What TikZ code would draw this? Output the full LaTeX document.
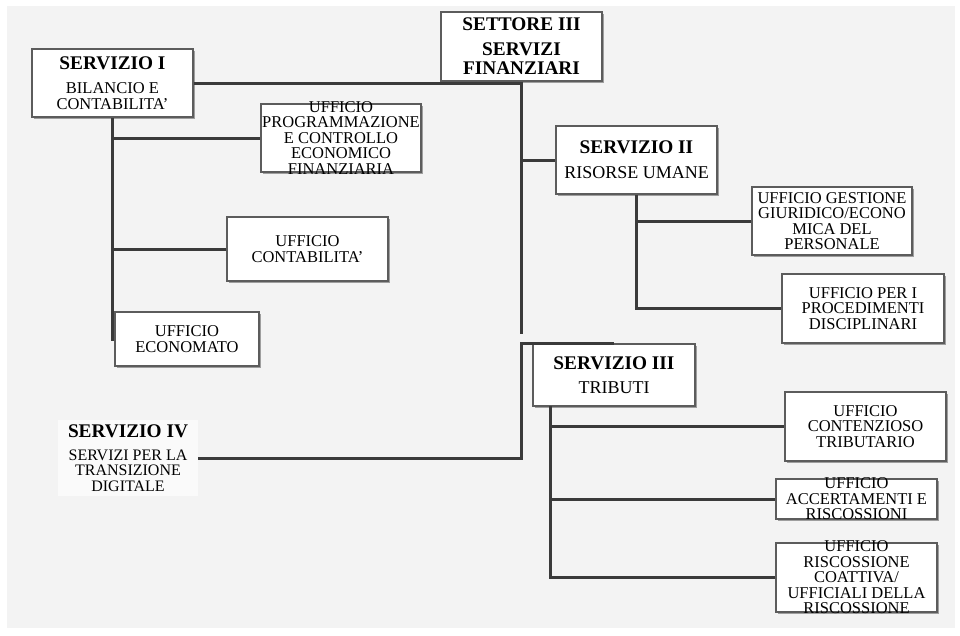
\documentclass[tikz,border=0pt]{standalone}
\usepackage{fontspec}
\setmainfont{Liberation Serif}
\usetikzlibrary{shadows}
\definecolor{pagebg}{HTML}{F3F3F3}
\definecolor{linkc}{HTML}{3A3A3A}
\definecolor{edgec}{HTML}{5C5C5C}
\newcommand\hdtxt[1]{{\fontsize{19.3}{19}\selectfont\bfseries #1}}
\tikzset{
  orgbox/.style={draw=edgec, line width=1.3pt, fill=white, inner sep=0pt,
    drop shadow={shadow xshift=1.5pt, shadow yshift=-2pt, fill=black, opacity=0.35}},
  boxtext/.style={align=center, inner sep=0pt, font=\fontsize{16.5}{15.5}\selectfont},
  link/.style={draw=linkc, line width=3pt}
}
\begin{document}
\begin{tikzpicture}[x=1pt, y=-1pt]
  \useasboundingbox (0,0) rectangle (960,635);
  \fill[white] (0,0) rectangle (960,635);
  \fill[pagebg] (7,6) rectangle (955,628);

  % sector head
  \node[orgbox, minimum width=161pt, minimum height=69pt] (set) at (521.5,46.5) {};
  \node[boxtext, font=\fontsize{19.3}{19}\selectfont\bfseries] (setT) at (set.center)
    {SETTORE III\\[6pt]SERVIZI\\FINANZIARI};

  % service I and its offices
  \node[orgbox, minimum width=161pt, minimum height=68pt] (s1) at (112.5,83) {};
  \node[boxtext] (s1T) at (s1.center) {\hdtxt{SERVIZIO I}\\[8.5pt]BILANCIO E\\CONTABILITA'};
  \node[orgbox, minimum width=160pt, minimum height=68pt] (prog) at (341,138) {};
  \node[boxtext] (progT) at (prog.center)
    {UFFICIO\\PROGRAMMAZIONE\\E CONTROLLO\\ECONOMICO\\FINANZIARIA};
  \node[orgbox, minimum width=161pt, minimum height=64pt] (cont) at (307.5,249) {};
  \node[boxtext] (contT) at (cont.center) {UFFICIO\\CONTABILITA'};
  \node[orgbox, minimum width=144pt, minimum height=54pt] (econ) at (187,339) {};
  \node[boxtext] (econT) at (econ.center) {UFFICIO\\ECONOMATO};

  % service II and its offices
  \node[orgbox, minimum width=161pt, minimum height=68pt] (s2) at (636.5,160) {};
  \node[boxtext] (s2T) at (s2.center) {\hdtxt{SERVIZIO II}\\[9.5pt]{\fontsize{18}{15.5}\selectfont RISORSE UMANE}};
  \node[orgbox, minimum width=160pt, minimum height=68pt] (gest) at (832,221) {};
  \node[boxtext] (gestT) at (gest.center)
    {UFFICIO GESTIONE\\GIURIDICO/ECONO\\MICA DEL\\PERSONALE};
  \node[orgbox, minimum width=162pt, minimum height=69pt] (disc) at (863,308.5) {};
  \node[boxtext] (discT) at (disc.center) {UFFICIO PER I\\PROCEDIMENTI\\DISCIPLINARI};

  % service III and its offices
  \node[orgbox, minimum width=162pt, minimum height=62pt] (s3) at (614,375) {};
  \node[boxtext] (s3T) at (s3.center) {\hdtxt{SERVIZIO III}\\[8.5pt]{\fontsize{18}{15.5}\selectfont TRIBUTI}};
  \node[orgbox, minimum width=161pt, minimum height=69pt] (tribc) at (865.5,426.5) {};
  \node[boxtext] (tribcT) at (tribc.center) {UFFICIO\\CONTENZIOSO\\TRIBUTARIO};
  \node[orgbox, minimum width=161pt, minimum height=40pt] (acc) at (856.5,499) {};
  \node[boxtext] (accT) at (acc.center) {UFFICIO\\ACCERTAMENTI E\\RISCOSSIONI};
  \node[orgbox, minimum width=161pt, minimum height=69pt] (risc) at (856.5,577.5) {};
  \node[boxtext] (riscT) at (risc.center)
    {UFFICIO\\RISCOSSIONE\\COATTIVA/\\UFFICIALI DELLA\\RISCOSSIONE};

  % service IV (no frame)
  \node[boxtext, fill=white!60!pagebg, inner xsep=10pt, inner ysep=5pt,
        font=\fontsize{16}{15.5}\selectfont] (s4) at (128,458)
    {\hdtxt{SERVIZIO IV}\\[7.5pt]SERVIZI PER LA\\TRANSIZIONE\\DIGITALE};

  % trunk from the sector head
  \coordinate (trunkEnd) at (521.5,334);
  \draw[link] (set.south) -- (trunkEnd);
  \draw[link] (s1.east) -- (s1.east -| set.south);
  \draw[link] (s2.west -| set.south) -- (s2.west);
  \draw[link] (s3.north) -- (s3.north -| set.south) -- (s4.east -| set.south) -- (s4.east);

  % service I branches
  \draw[link] (s1.south) -- (s1.south |- econ.west) -- (econ.west);
  \draw[link] (s1.south |- prog.west) -- (prog.west);
  \draw[link] (s1.south |- cont.west) -- (cont.west);

  % service II branches
  \draw[link] (s2.south) -- (s2.south |- disc.west) -- (disc.west);
  \draw[link] (s2.south |- gest.west) -- (gest.west);

  % service III branches
  \coordinate (s3drop) at (550,406);
  \draw[link] (s3drop) -- (s3drop |- risc.west) -- (risc.west);
  \draw[link] (s3drop |- tribc.west) -- (tribc.west);
  \draw[link] (s3drop |- acc.west) -- (acc.west);
\end{tikzpicture}
\end{document}
